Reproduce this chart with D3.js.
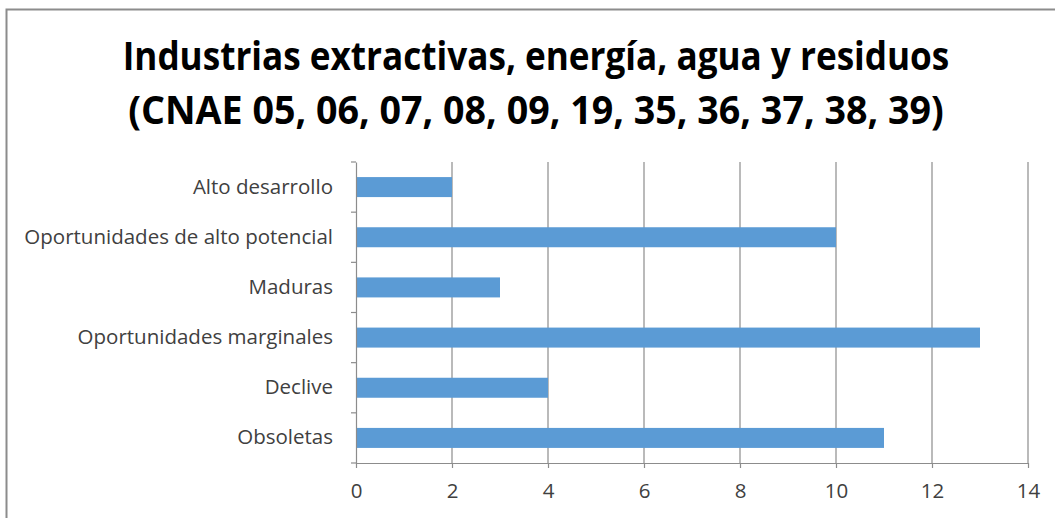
<!DOCTYPE html>
<html><head><meta charset="utf-8">
<script src="https://cdn.jsdelivr.net/npm/d3@7"></script>
<style>body{margin:0;background:#fff;} svg{display:block;}</style>
</head><body>
<svg id="c" width="1055" height="518"></svg>
<script>
const categories = ["Alto desarrollo","Oportunidades de alto potencial","Maduras","Oportunidades marginales","Declive","Obsoletas"];
const values = [2, 10, 3, 13, 4, 11];
const xTicks = [0, 2, 4, 6, 8, 10, 12, 14];
const titleLines = ["Industrias extractivas, energía, agua y residuos","(CNAE 05, 06, 07, 08, 09, 19, 35, 36, 37, 38, 39)"];
const titleWidths = [827, 816];

const svg = d3.select("#c");
const font = "'Open Sans',sans-serif";
const m = {left:356, right:1028, top:162, bottom:463};

svg.append("rect").attr("x",6.5).attr("y",9.5).attr("width",1100).attr("height",600)
  .attr("fill","#fff").attr("stroke","#8c8c8c").attr("stroke-width",2);

const x = d3.scaleLinear().domain([0,14]).range([m.left,m.right]);
const yb = d3.scaleBand().domain(categories).range([m.top,m.bottom]);

// gridlines
svg.append("g").selectAll("line").data(xTicks.filter(d=>d>0)).join("line")
  .attr("x1",d=>x(d)).attr("x2",d=>x(d)).attr("y1",m.top).attr("y2",m.bottom)
  .attr("stroke","#8c8c8c").attr("stroke-width",1.2);

// bars
svg.append("g").selectAll("rect").data(values).join("rect")
  .attr("x",x(0)).attr("y",(d,i)=>yb(categories[i])+yb.bandwidth()/2-10)
  .attr("width",d=>x(d)-x(0)).attr("height",20).attr("fill","#5b9bd5");

// x axis
const xa = svg.append("g").attr("transform",`translate(0,${m.bottom})`)
  .call(d3.axisBottom(x).tickValues(xTicks).tickSize(5).tickPadding(15).tickSizeOuter(0));
xa.select(".domain").attr("stroke","#8c8c8c").attr("stroke-width",1.2);
xa.selectAll(".tick line").attr("stroke","#8c8c8c").attr("stroke-width",1.2);
xa.selectAll("text").attr("font-family",font).attr("font-size",20.5).attr("fill","#404040");

// y axis
const ya = svg.append("g").attr("transform",`translate(${m.left},0)`)
  .call(d3.axisLeft(yb).tickSize(0).tickPadding(23));
ya.select(".domain").attr("stroke","#8c8c8c").attr("stroke-width",1.2);
ya.selectAll("text").attr("font-family",font).attr("font-size",20.5).attr("fill","#404040");
// category boundary ticks
const bounds = categories.map(c=>yb(c)).concat([m.bottom]);
svg.append("g").selectAll("line").data(bounds).join("line")
  .attr("x1",m.left-5).attr("x2",m.left).attr("y1",d=>d).attr("y2",d=>d)
  .attr("stroke","#8c8c8c").attr("stroke-width",1.2);

// title (horizontally condensed to mimic the narrow original face)
titleLines.forEach((t,i)=>{
  const g = svg.append("g");
  const txt = g.append("text").attr("x",0).attr("y",0).attr("text-anchor","middle")
    .attr("font-family",font).attr("font-weight","bold").attr("font-size",40).attr("fill","#000")
    .text(t);
  const w = txt.node().getComputedTextLength();
  g.attr("transform",`translate(536,${70+i*54}) scale(${titleWidths[i]/w},1)`);
});
</script>
</body></html>
